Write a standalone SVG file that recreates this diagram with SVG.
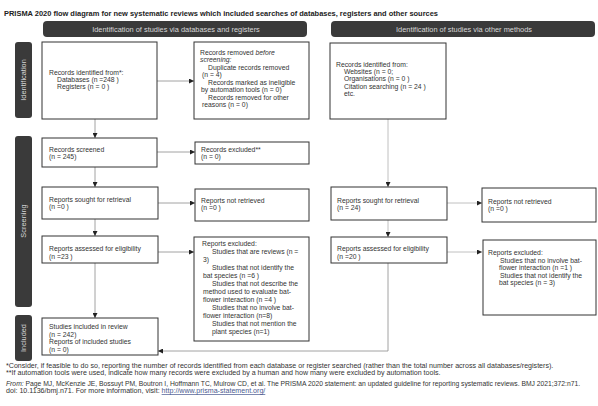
<svg xmlns="http://www.w3.org/2000/svg" width="598" height="406" viewBox="0 0 598 406">
<style>
.bg{fill:#ffffff}
.box{fill:#ffffff;stroke:#333333;stroke-width:1}
.hdr{fill:#3a3a3a}
.hdrt{font-family:"Liberation Sans",Arial,sans-serif;font-size:7.4px;fill:#d8d8d8;text-anchor:middle}
.t{font-family:"Liberation Sans",Arial,sans-serif;font-size:6.8px;fill:#333333}
.title{font-family:"Liberation Sans",Arial,sans-serif;font-size:7px;font-weight:bold;fill:#222222}
.fn{font-family:"Liberation Sans",Arial,sans-serif;font-size:7.1px;fill:#333333}
.fn2{font-family:"Liberation Sans",Arial,sans-serif;font-size:6.75px;fill:#333333}
.lnk{fill:#4a5a90;text-decoration:underline}
.c{fill:none;stroke:#8a8a8a;stroke-width:0.8}
.c2{fill:none;stroke:#b0b0b0;stroke-width:0.8}
</style>
<defs>
<marker id="ah" viewBox="0 0 6 6" refX="6" refY="3" markerWidth="5" markerHeight="5" markerUnits="userSpaceOnUse" orient="auto">
<path d="M0,0 L6,3 L0,6 Z" fill="#222222"/>
</marker>
</defs>
<rect class="bg" x="0" y="0" width="598" height="406"/>
<text class="title" x="4" y="15.5" textLength="434" lengthAdjust="spacingAndGlyphs">PRISMA 2020 flow diagram for new systematic reviews which included searches of databases, registers and other sources</text>

<g id="header-db">
<rect class="hdr" x="43" y="21" width="264" height="16" rx="4"/>
<text class="hdrt" x="176" y="31.5">Identification of studies via databases and registers</text>
</g>
<g id="header-other">
<rect class="hdr" x="331" y="21" width="264" height="16" rx="4"/>
<text class="hdrt" x="464" y="31.5">Identification of studies via other methods</text>
</g>

<g id="phase-identification">
<rect class="hdr" x="15" y="42" width="17" height="76" rx="3"/>
<text class="hdrt" transform="translate(26,80) rotate(-90)">Identification</text>
</g>
<g id="phase-screening">
<rect class="hdr" x="15" y="136" width="17" height="171" rx="3"/>
<text class="hdrt" transform="translate(26,221) rotate(-90)">Screening</text>
</g>
<g id="phase-included">
<rect class="hdr" x="15" y="315" width="17" height="46" rx="3"/>
<text class="hdrt" transform="translate(26,338) rotate(-90)">Included</text>
</g>

<g id="connectors">
<line class="c" x1="157" y1="81" x2="194" y2="81" marker-end="url(#ah)"/>
<line class="c" x1="95" y1="119" x2="95" y2="138" marker-end="url(#ah)"/>
<line class="c" x1="157" y1="152" x2="195" y2="152" marker-end="url(#ah)"/>
<line class="c" x1="95" y1="167" x2="95" y2="187" marker-end="url(#ah)"/>
<line class="c" x1="158" y1="203" x2="195" y2="203" marker-end="url(#ah)"/>
<line class="c" x1="95" y1="219" x2="95" y2="236" marker-end="url(#ah)"/>
<line class="c" x1="158" y1="252" x2="194" y2="252" marker-end="url(#ah)"/>
<line class="c" x1="95" y1="263" x2="95" y2="318" marker-end="url(#ah)"/>
<line class="c2" x1="388" y1="119" x2="388" y2="187" marker-end="url(#ah)"/>
<line class="c2" x1="447" y1="203" x2="482" y2="203" marker-end="url(#ah)"/>
<line class="c2" x1="388" y1="220" x2="388" y2="237" marker-end="url(#ah)"/>
<line class="c2" x1="447" y1="252" x2="482" y2="252" marker-end="url(#ah)"/>
<path class="c" d="M388,263 V351 H158" marker-end="url(#ah)"/>
</g>

<g id="records-identified">
<rect class="box" x="42" y="42" width="115" height="77"/>
<text class="t" x="49" y="75">Records identified from*:</text>
<text class="t" x="57" y="82">Databases (n =248 )</text>
<text class="t" x="57" y="89">Registers (n = 0 )</text>
</g>
<g id="records-removed">
<rect class="box" x="194" y="42" width="115" height="77"/>
<text class="t" x="200" y="55">Records removed <tspan font-style="italic">before</tspan></text>
<text class="t" x="200" y="62" font-style="italic">screening:</text>
<text class="t" x="208" y="70">Duplicate records removed</text>
<text class="t" x="202" y="77">(n = 4)</text>
<text class="t" x="208" y="85">Records marked as ineligible</text>
<text class="t" x="201" y="92">by automation tools (n = 0)</text>
<text class="t" x="208" y="100">Records removed for other</text>
<text class="t" x="202" y="107">reasons (n = 0)</text>
</g>
<g id="records-other">
<rect class="box" x="330" y="43" width="116" height="76"/>
<text class="t" x="336" y="67">Records identified from:</text>
<text class="t" x="344" y="74">Websites (n = 0;</text>
<text class="t" x="344" y="81">Organisations (n = 0 )</text>
<text class="t" x="344" y="89">Citation searching (n = 24 )</text>
<text class="t" x="344" y="96">etc.</text>
</g>

<g id="records-screened">
<rect class="box" x="42" y="138" width="115" height="29"/>
<text class="t" x="49" y="152">Records screened</text>
<text class="t" x="49" y="159">(n = 245)</text>
</g>
<g id="records-excluded">
<rect class="box" x="195" y="142" width="114" height="22"/>
<text class="t" x="201" y="152">Records excluded**</text>
<text class="t" x="201" y="159">(n = 0)</text>
</g>

<g id="sought-db">
<rect class="box" x="42" y="187" width="116" height="32"/>
<text class="t" x="49" y="202">Reports sought for retrieval</text>
<text class="t" x="49" y="209">(n =0 )</text>
</g>
<g id="not-retrieved-db">
<rect class="box" x="195" y="189" width="114" height="32"/>
<text class="t" x="201" y="203">Reports not retrieved</text>
<text class="t" x="201" y="210">(n =0 )</text>
</g>
<g id="sought-other">
<rect class="box" x="331" y="187" width="116" height="33"/>
<text class="t" x="337" y="203">Reports sought for retrieval</text>
<text class="t" x="337" y="210">(n = 24)</text>
</g>
<g id="not-retrieved-other">
<rect class="box" x="482" y="188" width="114" height="34"/>
<text class="t" x="488" y="204">Reports not retrieved</text>
<text class="t" x="488" y="211">(n =0 )</text>
</g>

<g id="assessed-db">
<rect class="box" x="42" y="236" width="116" height="27"/>
<text class="t" x="49" y="251">Reports assessed for eligibility</text>
<text class="t" x="49" y="259">(n =23 )</text>
</g>
<g id="excluded-db">
<rect class="box" x="194" y="237" width="115" height="104"/>
<text class="t" x="202" y="246">Reports excluded:</text>
<text class="t" x="212" y="254">Studies that are reviews (n =</text>
<text class="t" x="203" y="262">3)</text>
<text class="t" x="212" y="270">Studies that not identify the</text>
<text class="t" x="203" y="278">bat species (n =6 )</text>
<text class="t" x="212" y="286">Studies that not describe the</text>
<text class="t" x="203" y="294">method used to evaluate bat-</text>
<text class="t" x="203" y="302">flower interaction (n =4 )</text>
<text class="t" x="212" y="310">Studies that no involve bat-</text>
<text class="t" x="203" y="318">flower interaction (n=8)</text>
<text class="t" x="212" y="326">Studies that not mention the</text>
<text class="t" x="212" y="334">plant species (n=1)</text>
</g>
<g id="assessed-other">
<rect class="box" x="331" y="237" width="116" height="26"/>
<text class="t" x="337" y="251">Reports assessed for eligibility</text>
<text class="t" x="337" y="259">(n =20 )</text>
</g>
<g id="excluded-other">
<rect class="box" x="483" y="240" width="113" height="75"/>
<text class="t" x="488" y="255">Reports excluded:</text>
<text class="t" x="500" y="263">Studies that no involve bat-</text>
<text class="t" x="499" y="270">flower interaction (n =1 )</text>
<text class="t" x="500" y="278">Studies that not identify the</text>
<text class="t" x="499" y="285">bat species (n = 3)</text>
</g>

<g id="included">
<rect class="box" x="42" y="318" width="116" height="37"/>
<text class="t" x="49" y="329">Studies included in review</text>
<text class="t" x="49" y="336.5">(n = 242)</text>
<text class="t" x="49" y="344">Reports of included studies</text>
<text class="t" x="49" y="351.5">(n = 0)</text>
</g>

<g id="footnotes">
<text class="fn" x="6" y="368">*Consider, if feasible to do so, reporting the number of records identified from each database or register searched (rather than the total number across all databases/registers).</text>
<text class="fn" x="6" y="375">**If automation tools were used, indicate how many records were excluded by a human and how many were excluded by automation tools.</text>
<text class="fn2" x="6" y="386"><tspan font-style="italic">From: </tspan> Page MJ, McKenzie JE, Bossuyt PM, Boutron I, Hoffmann TC, Mulrow CD, et al. The PRISMA 2020 statement: an updated guideline for reporting systematic reviews. BMJ 2021;372:n71.</text>
<text class="fn" x="6" y="393">doi: 10.1136/bmj.n71. For more information, visit: <tspan class="lnk">http://www.prisma-statement.org/</tspan></text>
</g>
</svg>
